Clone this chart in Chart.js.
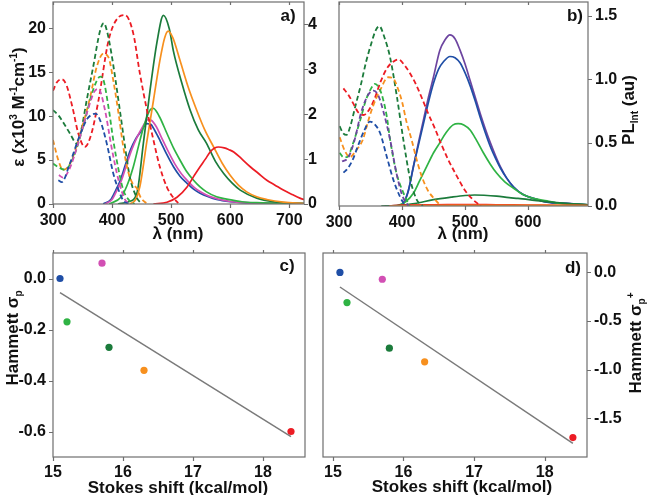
<!DOCTYPE html>
<html lang="en">
<head>
<meta charset="UTF-8">
<title>Absorption / emission spectra and Hammett plots</title>
<script src="https://cdn.jsdelivr.net/npm/chart.js"></script>
<style>
  body { margin: 0; background: #fff; font-family: 'Liberation Sans', Arial, sans-serif; }
  #fig { position: relative; width: 648px; height: 495px; overflow: hidden; background: #fff; }
  .panel { position: absolute; }
  .lbl { position: absolute; font-weight: bold; font-size: 17px; line-height: 1; color: #111;
         white-space: nowrap; transform: translate(-50%, -50%); }
  .rot { transform: translate(-50%, -50%) rotate(-90deg); }
  .lbl sup, .lbl sub { font-size: 10px; line-height: 0; }
</style>
</head>
<body>
<div id="fig">
  <div class="panel" style="left:0;top:0"><canvas id="chartA" width="325" height="250"></canvas></div>
  <div class="panel" style="left:318px;top:0"><canvas id="chartB" width="330" height="250"></canvas></div>
  <div class="panel" style="left:0;top:250px"><canvas id="chartC" width="325" height="245"></canvas></div>
  <div class="panel" style="left:318px;top:250px"><canvas id="chartD" width="330" height="245"></canvas></div>

  <div class="lbl" style="left:178px;top:233px">λ (nm)</div>
  <div class="lbl" style="left:463px;top:233px">λ (nm)</div>
  <div class="lbl rot" style="left:18px;top:107px">ε (x10<sup>3</sup> M<sup>-1</sup>cm<sup>-1</sup>)</div>
  <div class="lbl rot" style="left:628px;top:110px">PL<sub>Int</sub> (au)</div>
  <div class="lbl rot" style="left:12px;top:338px">Hammett σ<sub>p</sub></div>
  <div class="lbl rot" style="left:635px;top:343px">Hammett σ<sub>p</sub><sup>+</sup></div>
  <div class="lbl" style="left:178px;top:487px">Stokes shift (kcal/mol)</div>
  <div class="lbl" style="left:462px;top:486px">Stokes shift (kcal/mol)</div>
  <div class="lbl" style="left:288px;top:15px">a)</div>
  <div class="lbl" style="left:575px;top:15px">b)</div>
  <div class="lbl" style="left:287px;top:265px">c)</div>
  <div class="lbl" style="left:573px;top:267px">d)</div>
</div>

<script>
// ---- panel a: absorption (dashed, eps x10^3) ----
const aAbsRed = [[300,12.9],[307,13.9],[315,14.2],[323,13.5],[333,11],[343,8],[354,6.5],[365,8],[377,11.8],[394,18.6],[410,21.2],[422,21.5],[436,19.4],[447,14.9],[459,10.7],[470,7.3],[481,4.2],[493,1.9],[504,0.7],[512,0.1]];
const aAbsDkGreen = [[300,10.7],[309,10.1],[320,9],[329,8],[340,6.9],[348,8.5],[357,11.8],[368,15.6],[380,19.8],[386,20.6],[391,19.8],[399,17.1],[405,14.5],[414,10.3],[422,6.5],[430,3.1],[442,0.7],[450,0]];
const aAbsOrange = [[300,7.3],[309,5],[317,3.9],[329,4.6],[346,8],[363,12.2],[374,15.6],[385,17.1],[394,16.7],[402,14.1],[411,10.3],[419,6.5],[428,3.5],[436,2.2],[442,1.8],[448,0.8],[456,0.2],[462,0]];
const aAbsLtGreen = [[300,4.6],[309,4.2],[320,3.9],[335,5.4],[351,8.8],[368,13],[380,14.5],[385,14.2],[394,11],[402,7.3],[411,3.9],[419,1.6],[428,0.5],[438,0]];
const aAbsMagenta = [[310,3.3],[317,3.0],[328,4],[343,7],[358,10.5],[370,12.8],[377,13.1],[388,10.7],[399,6.5],[411,2.7],[422,0.5],[430,0]];
const aAbsBlue = [[309,2.7],[315,2.5],[328,4.5],[343,7.4],[358,9.7],[367,10.2],[372,10.3],[380,9.5],[391,6.9],[402,3.5],[411,1.6],[419,0.4],[428,0]];

// ---- panel a: emission (solid, right axis) ----
const aEmDkGreen = [[410,0],[428,0.05],[442,0.24],[453,1.35],[464,2.5],[476,3.6],[487,4.2],[497,3.9],[504,3.4],[518,2.7],[532,2.1],[546,1.65],[560,1.35],[575,0.95],[589,0.68],[603,0.47],[617,0.31],[645,0.13],[673,0.05],[725,0.01]];
const aEmOrange = [[430,0],[440,0.1],[447,0.38],[459,1.4],[470,2.3],[481,3.2],[489,3.7],[495,3.85],[503,3.7],[515,3.2],[529,2.6],[543,2.1],[557,1.65],[572,1.27],[586,0.92],[600,0.64],[614,0.42],[628,0.27],[645,0.16],[662,0.1],[690,0.04],[725,0.01]];
const aEmLtGreen = [[395,0],[415,0.15],[425,0.4],[436,0.83],[445,1.3],[453,1.7],[464,2.09],[470,2.13],[480,1.95],[493,1.57],[504,1.25],[515,0.98],[526,0.73],[538,0.53],[549,0.38],[560,0.27],[577,0.16],[594,0.11],[620,0.05],[645,0.03],[725,0.01]];
const aEmMagenta = [[388,0],[400,0.1],[408,0.3],[416,0.53],[424,0.85],[433,1.2],[442,1.48],[450,1.68],[461,1.88],[467,1.86],[475,1.72],[483,1.5],[494,1.2],[506,0.9],[517,0.68],[529,0.5],[540,0.36],[551,0.26],[565,0.17],[580,0.11],[603,0.05],[625,0.03],[725,0.01]];
const aEmBlue = [[385,0],[398,0.1],[406,0.3],[414,0.53],[422,0.85],[431,1.2],[440,1.45],[448,1.6],[459,1.79],[465,1.78],[473,1.62],[481,1.42],[492,1.12],[504,0.83],[515,0.62],[527,0.46],[538,0.33],[549,0.24],[563,0.16],[577,0.1],[600,0.05],[620,0.03],[725,0.01]];
const aEmRed = [[470,0],[493,0.04],[510,0.15],[527,0.38],[540,0.65],[549,0.83],[558,1.0],[566,1.16],[573,1.24],[580,1.27],[590,1.25],[598,1.21],[606,1.16],[620,1.0],[634,0.83],[648,0.68],[662,0.53],[676,0.42],[690,0.31],[705,0.21],[718,0.13],[725,0.1]];

// ---- panel b: absorbance (dashed, unlabelled left axis) ----
const bAbsDkGreen = [[301,0.36],[306,0.33],[312,0.32],[318,0.36],[326,0.45],[335,0.55],[343,0.65],[351,0.73],[358,0.79],[364,0.81],[372,0.76],[381,0.67],[392,0.49],[402,0.3],[413,0.12],[423,0.03],[433,0]];
const bAbsRed = [[307,0.53],[315,0.5],[323,0.46],[331,0.42],[339,0.41],[347,0.43],[356,0.48],[366,0.56],[376,0.62],[386,0.65],[394,0.66],[405,0.63],[420,0.56],[431,0.49],[441,0.42],[452,0.35],[462,0.28],[473,0.21],[484,0.15],[500,0.07],[512,0.03],[525,0]];
const bAbsOrange = [[301,0.31],[309,0.25],[317,0.22],[327,0.25],[338,0.3],[346,0.38],[354,0.45],[365,0.52],[378,0.58],[386,0.575],[392,0.54],[400,0.47],[407,0.38],[415,0.3],[425,0.19],[433,0.12],[441,0.07],[452,0.03],[462,0]];
const bAbsLtGreen = [[301,0.24],[307,0.22],[313,0.22],[322,0.28],[333,0.38],[343,0.48],[351,0.53],[357,0.55],[364,0.53],[370,0.48],[376,0.4],[381,0.3],[391,0.15],[402,0.06],[412,0]];
const bAbsPurple = [[305,0.2],[315,0.22],[325,0.3],[335,0.42],[346,0.5],[355,0.52],[362,0.5],[370,0.43],[381,0.3],[391,0.15],[400,0.05],[410,0]];
const bAbsBlue = [[307,0.15],[314,0.17],[322,0.21],[330,0.27],[340,0.34],[349,0.38],[356,0.37],[365,0.33],[376,0.22],[386,0.12],[397,0.04],[405,0]];

// ---- panel b: integrated PL (solid, right axis) ----
const bEmPurple = [[395,0],[402,0.02],[410,0.12],[418,0.31],[426,0.5],[434,0.68],[442,0.86],[450,1.02],[460,1.23],[468,1.31],[476,1.35],[484,1.32],[492,1.23],[500,1.12],[508,0.99],[516,0.86],[524,0.73],[532,0.61],[540,0.5],[548,0.4],[556,0.31],[566,0.22],[577,0.15],[592,0.09],[608,0.06],[630,0.03],[660,0.02],[695,0.01]];
const bEmBlue = [[395,0],[402,0.02],[410,0.12],[418,0.31],[426,0.48],[434,0.65],[442,0.82],[450,0.97],[458,1.08],[466,1.14],[476,1.18],[484,1.17],[492,1.13],[500,1.05],[508,0.95],[516,0.83],[524,0.7],[532,0.58],[540,0.47],[548,0.38],[556,0.3],[566,0.22],[577,0.15],[592,0.09],[608,0.06],[630,0.03],[660,0.02],[695,0.01]];
const bEmLtGreen = [[392,0],[405,0.03],[418,0.1],[428,0.2],[439,0.31],[450,0.42],[460,0.5],[470,0.58],[481,0.64],[489,0.65],[498,0.64],[508,0.6],[518,0.52],[529,0.42],[540,0.33],[550,0.26],[563,0.19],[577,0.14],[592,0.09],[608,0.06],[630,0.04],[650,0.02],[695,0.01]];
const bEmDkGreen = [[367,0],[390,0.003],[420,0.02],[450,0.05],[478,0.07],[500,0.083],[515,0.087],[530,0.085],[550,0.078],[570,0.066],[584,0.06],[610,0.045],[636,0.03],[665,0.018],[695,0.01]];
const bEmOrange = [[380,0],[420,0.004],[480,0.006],[560,0.006],[640,0.005],[695,0.004]];
const bEmRed = [[380,0],[400,0.008],[450,0.01],[500,0.012],[550,0.01],[600,0.008],[650,0.006],[695,0.004]];

// ---- panels c / d: Stokes shift vs Hammett constants ----
const stokesShift = [15.1, 15.7, 15.2, 15.8, 16.3, 18.4];
const sigmaP = [0.00, 0.06, -0.17, -0.27, -0.36, -0.60];
const sigmaPPlus = [0.00, -0.07, -0.31, -0.78, -0.92, -1.70];
const fitC = [[15.1, -0.055], [18.4, -0.62]];
const fitD = [[15.1, -0.15], [18.4, -1.76]];

const cRed = '#ec1c24', cDkGreen = '#1b7b3b', cOrange = '#f7901e', cLtGreen = '#2fb344',
      cMagenta = '#d24fb4', cBlue = '#1f4ea6', cPurple = '#6d45a0', cFit = '#7a7a7a';
const dotColors = [cBlue, cMagenta, cLtGreen, cDkGreen, cOrange, cRed];
const axisColor = '#6e6e6e';

Chart.defaults.font.family = "'Liberation Sans', Arial, sans-serif";
Chart.defaults.font.size = 16;
Chart.defaults.font.weight = 'bold';
Chart.defaults.color = '#111';

// box around the plot area plus tick marks (outward on the axes, mirrored on top)
const framePlugin = {
  id: 'frame',
  afterDraw(chart, args, opts) {
    const { ctx, chartArea: a } = chart;
    const topLen = opts.topInside ? 3 : -3;
    ctx.save();
    ctx.strokeStyle = axisColor;
    ctx.lineWidth = 1.2;
    ctx.strokeRect(a.left, a.top, a.right - a.left, a.bottom - a.top);
    ctx.beginPath();
    Object.values(chart.scales).forEach(s => {
      s.ticks.forEach(t => {
        const p = Math.round(s.getPixelForValue(t.value)) + 0.5;
        if (s.position === 'left') { ctx.moveTo(a.left, p); ctx.lineTo(a.left - 4, p); }
        else if (s.position === 'right') { ctx.moveTo(a.right, p); ctx.lineTo(a.right + 4, p); }
        else {
          ctx.moveTo(p, a.bottom); ctx.lineTo(p, a.bottom + 4);
          ctx.moveTo(p, a.top); ctx.lineTo(p, a.top + topLen);
        }
      });
    });
    ctx.stroke();
    ctx.restore();
  }
};

function onStep(step) {
  return v => Math.abs(v / step - Math.round(v / step)) < 1e-6;
}

function axis(o) {
  const keep = onStep(o.step), lab = onStep(o.labelStep || o.step);
  const vertical = o.position === 'left' || o.position === 'right';
  return {
    type: 'linear', position: o.position, min: o.min, max: o.max,
    border: { display: false },
    grid: { color: 'rgba(0,0,0,0)', tickLength: 4 },
    ticks: {
      stepSize: o.step, autoSkip: false, maxRotation: 0, includeBounds: false, padding: o.pad ?? 3,
      callback: v => (o.noLabels || !lab(v)) ? null : o.fmt(v)
    },
    afterBuildTicks: s => {
      s.ticks = s.ticks.filter(t => keep(t.value) && t.value >= o.min - 1e-9 && t.value <= o.max + 1e-9);
    },
    // fixed axis sizes so the plot boxes land where the figure has them
    afterFit: s => {
      if (vertical) { s.width = o.size; s.paddingTop = 0; s.paddingBottom = 0; }
      else { s.height = o.size; s.paddingLeft = 0; s.paddingRight = 0; }
    }
  };
}

function curve(points, color, yAxisID, dashed) {
  return {
    data: points, borderColor: color, borderWidth: dashed ? 1.8 : 1.7,
    borderDash: dashed ? [5, 3] : [], pointRadius: 0, fill: false,
    cubicInterpolationMode: 'monotone', yAxisID
  };
}

function makeChart(id, datasets, scales, padding, topInside) {
  return new Chart(document.getElementById(id), {
    type: 'line',
    data: { datasets },
    options: {
      responsive: false, animation: false, devicePixelRatio: 1,
      layout: { padding, autoPadding: false },
      plugins: { legend: { display: false }, tooltip: { enabled: false }, frame: { topInside } },
      scales
    },
    plugins: [framePlugin]
  });
}

const int = v => String(Math.round(v));
const one = v => (Math.abs(v) < 1e-9 ? 0 : v).toFixed(1);

// a)
makeChart('chartA', [
  curve(aAbsBlue, cBlue, 'y', true),
  curve(aAbsMagenta, cMagenta, 'y', true),
  curve(aAbsLtGreen, cLtGreen, 'y', true),
  curve(aAbsOrange, cOrange, 'y', true),
  curve(aAbsDkGreen, cDkGreen, 'y', true),
  curve(aAbsRed, cRed, 'y', true),
  curve(aEmRed, cRed, 'y2', false),
  curve(aEmOrange, cOrange, 'y2', false),
  curve(aEmDkGreen, cDkGreen, 'y2', false),
  curve(aEmLtGreen, cLtGreen, 'y2', false),
  curve(aEmMagenta, cMagenta, 'y2', false),
  curve(aEmBlue, cBlue, 'y2', false)
], {
  x: axis({ position: 'bottom', min: 300, max: 725, step: 50, labelStep: 100, fmt: int, size: 46, pad: 3 }),
  y: axis({ position: 'left', min: 0, max: 23, step: 2.5, labelStep: 5, fmt: int, size: 53 }),
  y2: axis({ position: 'right', min: 0, max: 4.5, step: 0.5, labelStep: 1, fmt: int, size: 21, pad: 0 })
}, { top: 2 }, true);

// b)
makeChart('chartB', [
  curve(bAbsBlue, cBlue, 'y', true),
  curve(bAbsPurple, cPurple, 'y', true),
  curve(bAbsLtGreen, cLtGreen, 'y', true),
  curve(bAbsOrange, cOrange, 'y', true),
  curve(bAbsRed, cRed, 'y', true),
  curve(bAbsDkGreen, cDkGreen, 'y', true),
  curve(bEmOrange, cOrange, 'y2', false),
  curve(bEmRed, cRed, 'y2', false),
  curve(bEmDkGreen, cDkGreen, 'y2', false),
  curve(bEmLtGreen, cLtGreen, 'y2', false),
  curve(bEmBlue, cBlue, 'y2', false),
  curve(bEmPurple, cPurple, 'y2', false)
], {
  x: axis({ position: 'bottom', min: 300, max: 695, step: 50, labelStep: 100, fmt: int, size: 44, pad: 3 }),
  y: axis({ position: 'left', min: 0, max: 0.919, step: 0.1, noLabels: true, fmt: one, size: 21 }),
  y2: axis({ position: 'right', min: 0, max: 1.61, step: 0.25, labelStep: 0.5, fmt: one, size: 60 })
}, { top: 2 }, true);

// c) and d)
function hammett(id, sigma, fit, yOpts, padding, xMin) {
  return makeChart(id, [
    {
      data: fit, borderColor: cFit, borderWidth: 1.5, pointRadius: 0, fill: false, yAxisID: 'y'
    },
    {
      data: stokesShift.map((x, i) => ({ x, y: sigma[i] })), showLine: false,
      pointRadius: 3.6, pointBorderWidth: 0, pointBackgroundColor: dotColors,
      pointBorderColor: dotColors, yAxisID: 'y'
    }
  ], {
    x: axis({ position: 'bottom', min: xMin, max: 18.6, step: 0.5, labelStep: 1, fmt: int, size: 38, pad: 2 }),
    y: axis(yOpts)
  }, padding, false);
}

hammett('chartC', sigmaP, fitC,
  { position: 'left', min: -0.7, max: 0.1, step: 0.1, labelStep: 0.2, fmt: one, size: 53 },
  { top: 3, right: 20 }, 15);
hammett('chartD', sigmaPPlus, fitD,
  { position: 'right', min: -1.9, max: 0.2, step: 0.25, labelStep: 0.5, fmt: one, size: 61 },
  { top: 3, left: 5 }, 14.86);
</script>
</body>
</html>
